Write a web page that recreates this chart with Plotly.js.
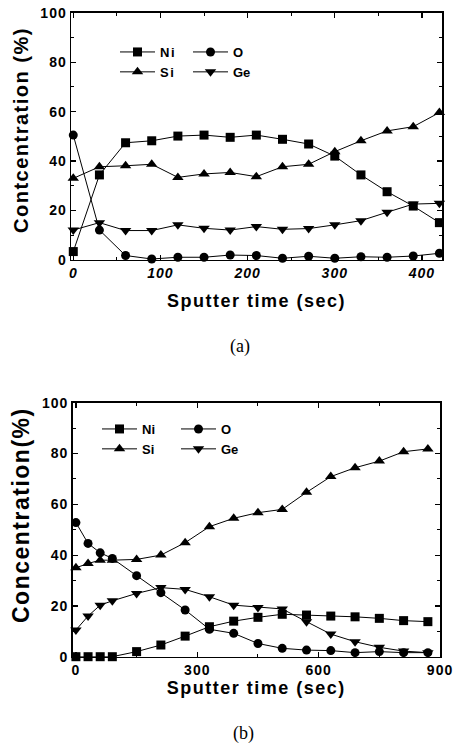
<!DOCTYPE html>
<html>
<head>
<meta charset="utf-8">
<script src="https://cdn.plot.ly/plotly-3.0.1.min.js"></script>
<style>
html,body{margin:0;padding:0;background:#fff;}
#chart{width:454px;height:746px;}
#chart .xtitle, #chart .ytitle, #chart .x2title, #chart .y2title { letter-spacing: 1.5px; }
#chart .xtick text, #chart .ytick text, #chart .x2tick text, #chart .y2tick text { letter-spacing: 1px; }
#chart .legendtext { letter-spacing: 1.5px; }
</style>
</head>
<body>
<div id="chart"></div>
<script>
// ---- Data (a) ----
const timeA = [0, 30, 60, 90, 120, 150, 180, 210, 240, 270, 300, 330, 360, 390, 420];
const niA = [3.4, 34.4, 47.4, 48.2, 50.1, 50.5, 49.6, 50.5, 48.8, 46.9, 42.0, 34.4, 27.6, 21.8, 15.1];
const oA  = [50.5, 12.1, 1.8, 0.4, 1.1, 1.1, 2.0, 1.8, 0.7, 1.5, 0.7, 1.3, 1.1, 1.6, 2.7];
const siA = [33.0, 37.7, 38.1, 38.7, 33.4, 34.8, 35.4, 33.7, 37.7, 38.7, 43.8, 48.2, 52.2, 53.9, 59.6];
const geA = [12.1, 15.1, 11.9, 11.9, 14.2, 12.8, 12.1, 13.5, 12.4, 12.7, 14.2, 15.9, 19.3, 22.6, 22.9];

// ---- Data (b) ----
const timeB = [0, 30, 60, 90, 150, 210, 270, 330, 390, 450, 510, 570, 630, 690, 750, 810, 870];
const niB = [0, 0, 0, 0, 2.0, 4.6, 8.1, 11.8, 14.0, 15.5, 16.7, 16.4, 16.0, 15.7, 15.1, 14.2, 13.8];
const oB  = [52.8, 44.6, 40.9, 38.7, 31.9, 25.2, 18.4, 10.8, 9.2, 5.2, 3.3, 2.6, 2.4, 1.6, 2.0, 1.6, 1.6];
const siB = [35.0, 36.7, 38.0, 38.0, 38.3, 40.0, 44.9, 51.2, 54.5, 56.7, 58.0, 64.7, 70.9, 74.4, 77.0, 80.7, 81.8];
const geB = [10.5, 16.0, 20.3, 22.0, 24.9, 27.2, 26.5, 23.6, 20.3, 19.4, 18.8, 13.8, 8.9, 5.9, 3.7, 2.2, 1.6];

const seriesNames = ['Ni', 'O', 'Si', 'Ge'];
const yTitleA = 'Contcentration (%)';
const yTitleB = 'Concentration(%)';
const xTitle = 'Sputter time (sec)';
const symbols = ['square', 'circle', 'triangle-up', 'triangle-down'];
const markerSizes = [9, 9, 10, 10];

const FONT = 'Liberation Sans, Arial, sans-serif';

function mk(x, y, i, xa, ya, leg) {
  return {
    x: x, y: y, type: 'scatter', mode: 'lines+markers',
    name: seriesNames[i], xaxis: xa, yaxis: ya, legend: leg,
    line: {color: '#000', width: 1},
    marker: {symbol: symbols[i], size: markerSizes[i], color: '#000'},
    cliponaxis: false
  };
}

const traces = [
  mk(timeA, niA, 0, 'x', 'y', 'legend'),
  mk(timeA, oA, 1, 'x', 'y', 'legend2'),
  mk(timeA, siA, 2, 'x', 'y', 'legend'),
  mk(timeA, geA, 3, 'x', 'y', 'legend2'),
  mk(timeB, niB, 0, 'x2', 'y2', 'legend3'),
  mk(timeB, oB, 1, 'x2', 'y2', 'legend4'),
  mk(timeB, siB, 2, 'x2', 'y2', 'legend3'),
  mk(timeB, geB, 3, 'x2', 'y2', 'legend4')
];

function axisBase() {
  return {
    showline: true, linecolor: '#000', linewidth: 1.5, mirror: 'ticks',
    ticks: 'inside', ticklen: 5, tickwidth: 1.2, tickcolor: '#000',
    showgrid: false, zeroline: false,
    minor: {ticks: 'inside', ticklen: 3, tickwidth: 1, tickcolor: '#000', showgrid: false}
  };
}

const legFont = {family: FONT, size: 13, color: '#000', weight: 'bold'};
function leg(x, y) {
  return {x: x, y: y, xanchor: 'left', yanchor: 'top', bgcolor: 'rgba(0,0,0,0)',
          font: legFont, orientation: 'v', tracegroupgap: 0, borderwidth: 0, itemwidth: 35};
}

const tickFont = {family: FONT, size: 14, color: '#000', weight: 'bold'};

function spaced(t) { return '<span style="letter-spacing:1.5px">' + t + '</span>'; }

const layout = {
  width: 454, height: 746,
  margin: {l: 0, r: 0, t: 0, b: 0},
  paper_bgcolor: '#fff', plot_bgcolor: '#fff',
  showlegend: true,
  xaxis: Object.assign(axisBase(), {
    domain: [0.1564, 0.9736], range: [-2.6, 423], anchor: 'y',
    dtick: 100, tick0: 0, minor: Object.assign(axisBase().minor, {dtick: 50}),
    tickfont: Object.assign({}, tickFont, {style: 'italic'}),
    title: {text: xTitle, font: {family: FONT, size: 18, color: '#000', weight: 'bold'}, standoff: 14}
  }),
  yaxis: Object.assign(axisBase(), {
    domain: [0.6515, 0.983], range: [0, 100], anchor: 'x',
    dtick: 20, tick0: 0, minor: Object.assign(axisBase().minor, {dtick: 10}),
    tickfont: tickFont
  }),
  xaxis2: Object.assign(axisBase(), {
    domain: [0.1601, 0.9692], range: [-8, 900], anchor: 'y2',
    dtick: 300, tick0: 0, minor: Object.assign(axisBase().minor, {dtick: 150}),
    tickfont: tickFont,
    title: {text: xTitle, font: {family: FONT, size: 18, color: '#000', weight: 'bold'}, standoff: 0}
  }),
  yaxis2: Object.assign(axisBase(), {
    domain: [0.1197, 0.4602], range: [0, 100], anchor: 'x2',
    dtick: 20, tick0: 0, minor: Object.assign(axisBase().minor, {dtick: 10}),
    tickfont: tickFont
  }),
  legend: leg(115 / 454, 1 - 37 / 746),
  legend2: leg(188 / 454, 1 - 37 / 746),
  legend3: leg(97 / 454, 1 - 414 / 746),
  legend4: leg(176 / 454, 1 - 414 / 746),
  annotations: [
    {text: spaced(yTitleA), xref: 'paper', yref: 'paper', x: 21 / 454, y: 1 - 130 / 746,
     textangle: -90, showarrow: false, xanchor: 'center', yanchor: 'middle',
     font: {family: FONT, size: 20, color: '#000', weight: 'bold'}},
    {text: spaced(yTitleB), xref: 'paper', yref: 'paper', x: 21 / 454, y: 1 - 515 / 746,
     textangle: -90, showarrow: false, xanchor: 'center', yanchor: 'middle',
     font: {family: FONT, size: 23, color: '#000', weight: 'bold'}},
    {text: '(a)', xref: 'paper', yref: 'paper', x: 240 / 454, y: 1 - 346 / 746,
     showarrow: false, xanchor: 'center', yanchor: 'middle',
     font: {family: 'Liberation Serif, DejaVu Serif, serif', size: 18, color: '#000'}},
    {text: '(b)', xref: 'paper', yref: 'paper', x: 243 / 454, y: 1 - 733 / 746,
     showarrow: false, xanchor: 'center', yanchor: 'middle',
     font: {family: 'Liberation Serif, DejaVu Serif, serif', size: 18, color: '#000'}}
  ]
};

Plotly.newPlot('chart', traces, layout, {staticPlot: true, displayModeBar: false});
</script>
</body>
</html>
